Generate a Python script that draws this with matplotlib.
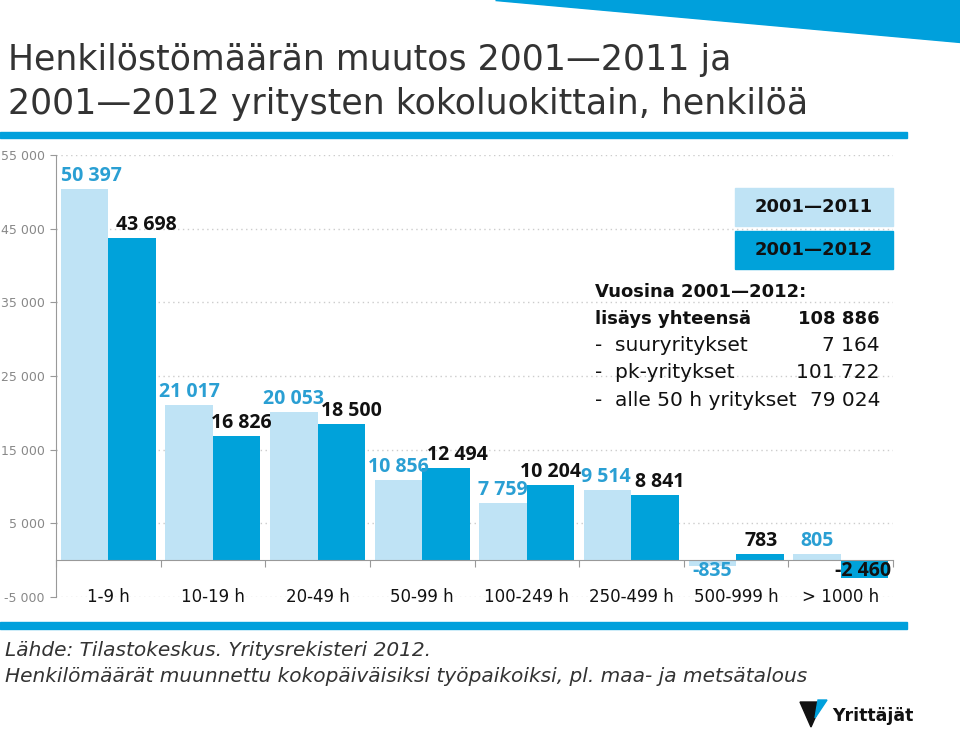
import matplotlib
matplotlib.use("Agg")
import matplotlib.pyplot as plt
from matplotlib.patches import Polygon, Rectangle
import numpy as np

categories = ["1-9 h", "10-19 h", "20-49 h", "50-99 h", "100-249 h", "250-499 h", "500-999 h", "> 1000 h"]
change_2011 = [50397, 21017, 20053, 10856, 7759, 9514, -835, 805]
change_2012 = [43698, 16826, 18500, 12494, 10204, 8841, 783, -2460]
label_2011 = ["50 397", "21 017", "20 053", "10 856", "7 759", "9 514", "-835", "805"]
label_2012 = ["43 698", "16 826", "18 500", "12 494", "10 204", "8 841", "783", "-2 460"]
yticks = [-5000, 5000, 15000, 25000, 35000, 45000, 55000]
ytick_labels = ["-5 000", "5 000", "15 000", "25 000", "35 000", "45 000", "55 000"]
series_names = ["2001\u20142011", "2001\u20142012"]
info_lines = [("Vuosina 2001\u20142012:", "", True),
              ("lisäys yhteensä", "108 886", True),
              ("-  suuryritykset", "7 164", False),
              ("-  pk-yritykset", "101 722", False),
              ("-  alle 50 h yritykset", "79 024", False)]

# label nudges in pixels (styling only)
dx_2011 = [7, 0, 0, 0, 0, -2, 0, 0]
dx_2012 = [14, 5, 10, 11, 0, 5, 1, -1]

FAM = ["DejaVu Sans"]
LBL_FAM = ["Open Sans", "DejaVu Sans"]
plt.rcParams["font.family"] = FAM

LIGHT = "#bfe3f5"
DARK = "#00a2da"
LABEL_LIGHT = "#2a9fd3"
BLUE = "#00a0dc"
PT = 72 / 100  # points per pixel

fig = plt.figure(figsize=(9.6, 7.3), dpi=100)
fig.patch.set_facecolor("white")

fig.patches.append(Polygon([[495/960, 1], [1, 1], [1, 1 - 42/730]], closed=True,
                           transform=fig.transFigure, color=BLUE, zorder=0))
fig.patches.append(Rectangle((0, 1 - 138/730), 907/960, 6/730, transform=fig.transFigure,
                             color=BLUE, zorder=0))
fig.patches.append(Rectangle((0, 1 - 629/730), 907/960, 7/730, transform=fig.transFigure,
                             color=BLUE, zorder=0))

fig.text(8/960, 1 - 60/730, "Henkilöstömäärän muutos 2001\u20142011 ja", fontsize=25,
         color="#333333", va="center", ha="left")
fig.text(8/960, 1 - 104/730, "2001\u20142012 yritysten kokoluokittain, henkilöä", fontsize=25,
         color="#333333", va="center", ha="left")

ax = fig.add_axes([56/960, 1 - 597/730, 837/960, (597 - 155)/730])
x = np.arange(len(categories))
off, w = 0.227, 0.454
ax.bar(x - off, change_2011, width=w, color=LIGHT, zorder=2)
ax.bar(x + off, change_2012, width=w, color=DARK, zorder=2)

ax.set_xlim(-0.5, len(categories) - 0.5)
ax.set_ylim(-5000, 55000)
ax.set_yticks(yticks)
ax.set_yticklabels(ytick_labels, fontsize=9, color="#888888")
ax.tick_params(axis="y", length=4, color="#999999", pad=4)
for t in yticks:
    ax.axhline(t, color="#cccccc", lw=1, ls=(0, (1, 2.5)), zorder=1)

ax.spines["top"].set_visible(False)
ax.spines["right"].set_visible(False)
ax.spines["left"].set_color("#999999")
ax.spines["bottom"].set_position(("data", 0))
ax.spines["bottom"].set_color("#999999")
ax.set_xticks(np.arange(len(categories) + 1) - 0.5)
ax.set_xticklabels([])
ax.tick_params(axis="x", length=5, color="#999999", direction="out")

for i, c in enumerate(categories):
    ax.text(i, -5000, c, ha="center", va="center", fontsize=12, color="#111111")

for i in range(len(categories)):
    for vals, labs, sign, col, dxs in ((change_2011, label_2011, -1, LABEL_LIGHT, dx_2011),
                                       (change_2012, label_2012, 1, "#111111", dx_2012)):
        v = vals[i]
        if v >= 0:
            ax.annotate(labs[i], (x[i] + sign * off, v), xytext=(dxs[i] * PT, 3 * PT),
                        textcoords="offset points", ha="center", va="bottom",
                        fontsize=14, fontweight="bold", color=col, zorder=5, family=LBL_FAM)
        else:
            ax.annotate(labs[i], (x[i] + sign * off, 0), xytext=(dxs[i] * PT, -1 * PT),
                        textcoords="offset points", ha="center", va="top",
                        fontsize=14, fontweight="bold", color=col, zorder=5, family=LBL_FAM)

for k, (name, col) in enumerate(zip(series_names, [LIGHT, DARK])):
    y0 = 1 - (226 + k * 43) / 730
    fig.patches.append(Rectangle((735/960, y0), 158/960, 38/730, transform=fig.transFigure,
                                 color=col, zorder=3))
    fig.text(814/960, y0 + 19/730, name, ha="center", va="center", fontsize=13,
             fontweight="bold", color="#111111", zorder=4)

for j, (left, right, bold) in enumerate(info_lines):
    yy = 1 - (292 + j * 27) / 730
    fs = 13 if bold else 14.5
    fw = "bold" if bold else "normal"
    fig.text(595/960, yy, left, ha="left", va="center", fontsize=fs, fontweight=fw, color="#111111")
    if right:
        fig.text(880/960, yy, right, ha="right", va="center", fontsize=fs, fontweight=fw,
                 color="#111111")

fig.text(5/960, 1 - 650/730, "Lähde: Tilastokeskus. Yritysrekisteri 2012.", fontsize=14.5,
         style="italic", color="#333333", va="center")
fig.text(5/960, 1 - 677/730,
         "Henkilömäärät muunnettu kokopäiväisiksi työpaikoiksi, pl. maa- ja metsätalous",
         fontsize=14.5, style="italic", color="#333333", va="center")

fig.patches.append(Polygon([[800/960, 1 - 702/730], [822/960, 1 - 702/730], [811/960, 1 - 727/730]],
                           closed=True, transform=fig.transFigure, color="#111111"))
fig.patches.append(Polygon([[818/960, 1 - 700/730], [827/960, 1 - 700/730], [815/960, 1 - 718/730]],
                           closed=True, transform=fig.transFigure, color=BLUE))
fig.text(832/960, 1 - 716/730, "Yrittäjät", fontsize=12.5, fontweight="bold", color="#111111",
         va="center", ha="left")

fig.savefig("out.png", dpi=100, facecolor="white")
